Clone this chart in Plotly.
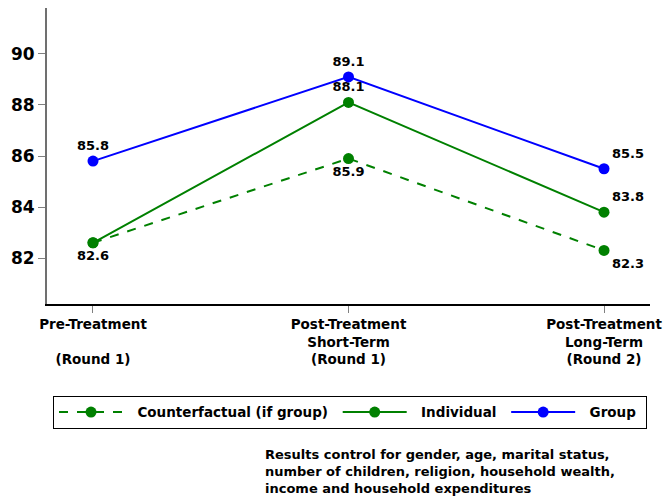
import plotly.graph_objects as go

categories = ["Pre-Treatment<br> <br>(Round 1)",
              "Post-Treatment<br>Short-Term<br>(Round 1)",
              "Post-Treatment<br>Long-Term<br>(Round 2)"]
x_idx = [0, 1, 2]
counterfactual = [82.6, 85.9, 82.3]
individual = [82.6, 88.1, 83.8]
group = [85.8, 89.1, 85.5]
y_ticks = [82, 84, 86, 88, 90]
series_names = ["Counterfactual (if group)", "Individual", "Group"]
note = ("Results control for gender, age, marital status,<br>"
        "number of children, religion, household wealth,<br>"
        "income and household expenditures")

GREEN = "#008000"
BLUE = "#0000ff"
FONT = "DejaVu Sans, sans-serif"
lab_font = dict(family=FONT, size=13, color="black", weight="bold")
NB = "\u00a0"


def leg(name):
    return NB * 2 + name + NB


fig = go.Figure()
fig.add_trace(go.Scatter(
    x=x_idx, y=counterfactual, name=leg(series_names[0]),
    mode="lines+markers+text",
    line=dict(color=GREEN, width=2, dash="dash"),
    marker=dict(color=GREEN, size=11),
    text=["", f"{counterfactual[1]:.1f}", f"{counterfactual[2]:.1f}"],
    textposition=["bottom center", "bottom center", "bottom right"],
    textfont=lab_font, cliponaxis=False))
fig.add_trace(go.Scatter(
    x=x_idx, y=individual, name=leg(series_names[1]),
    mode="lines+markers+text",
    line=dict(color=GREEN, width=2),
    marker=dict(color=GREEN, size=11),
    text=[f"{v:.1f}" for v in individual],
    textposition=["bottom center", "top center", "top right"],
    textfont=lab_font, cliponaxis=False))
fig.add_trace(go.Scatter(
    x=x_idx, y=group, name=leg(series_names[2]),
    mode="lines+markers+text",
    line=dict(color=BLUE, width=2),
    marker=dict(color=BLUE, size=11),
    text=[f"{v:.1f}" for v in group],
    textposition=["top center", "top center", "top right"],
    textfont=lab_font, cliponaxis=False))

fig.update_layout(
    width=664, height=496,
    margin=dict(l=47, r=14, t=8, b=192),
    plot_bgcolor="white", paper_bgcolor="white",
    font=dict(family=FONT, color="black"),
    xaxis=dict(
        range=[-0.18, 2.18], tickmode="array", tickvals=x_idx,
        ticktext=categories, showgrid=False, zeroline=False,
        showline=True, linecolor="black", linewidth=1.5,
        ticks="outside", ticklen=7, tickcolor="#808080", tickwidth=1,
        automargin=False, ticklabeloverflow="allow",
        tickfont=dict(family=FONT, size=13.5, color="black", weight="bold")),
    yaxis=dict(
        range=[80.2, 91.8], tickmode="array", tickvals=y_ticks,
        showgrid=False, zeroline=False,
        showline=True, linecolor="#707070", linewidth=2,
        ticks="outside", ticklen=7, tickcolor="#808080", tickwidth=1,
        automargin=False,
        tickfont=dict(family=FONT, size=17, color="black", weight="bold")),
    legend=dict(
        orientation="h", x=0.01, xanchor="left", y=-0.31, yanchor="top",
        bordercolor="black", borderwidth=1, bgcolor="white",
        font=dict(family=FONT, size=13.5, color="black", weight="bold"),
        itemwidth=64, traceorder="normal"),
    showlegend=True,
)
fig.add_annotation(
    text=note, xref="paper", yref="paper", x=0.358, y=-0.475,
    xanchor="left", yanchor="top", align="left", showarrow=False,
    font=dict(family=FONT, size=13, color="black", weight="bold"))

# remove the default 8px page margin so the figure fills the window exactly
fig.write_html("out.html", config={"displayModeBar": False},
               post_script="document.body.style.margin='0px';")
